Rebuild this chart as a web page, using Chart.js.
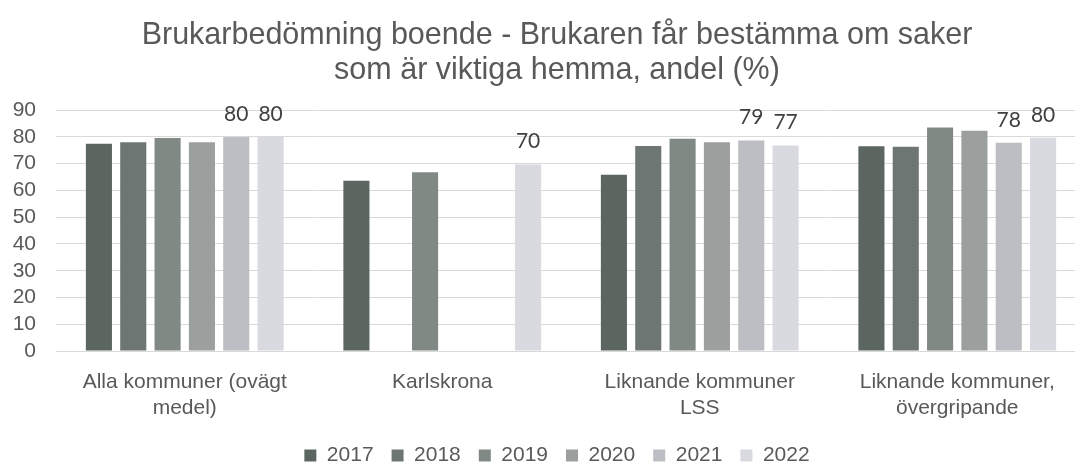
<!DOCTYPE html>
<html lang="sv">
<head>
<meta charset="utf-8">
<title>Brukarbedömning boende</title>
<script src="https://cdn.jsdelivr.net/npm/chart.js@4"></script>
<style>
  html, body { margin: 0; padding: 0; overflow: hidden; background: #fff; width: 1075px; height: 464px; }
  #chart { position: absolute; left: 0; top: 0; }
</style>
</head>
<body>
<canvas id="chart" width="1114" height="476"></canvas>
<script>
const categories = [
    ["Alla kommuner (ovägt", "medel)"],
    "Karlskrona",
    ["Liknande kommuner", "LSS"],
    ["Liknande kommuner,", "övergripande"]
];
const years = ["2017", "2018", "2019", "2020", "2021", "2022"];

const v2017 = [77.4, 63.6, 65.9, 76.5];
const v2018 = [78.0, null, 76.6, 76.3];
const v2019 = [79.6, 66.8, 79.3, 83.5];
const v2020 = [78.0, null, 78.0, 82.3];
const v2021 = [80.0, null, 78.7, 77.8];
const v2022 = [80.0, 69.7, 76.8, 79.7];

const yTicks = [0, 10, 20, 30, 40, 50, 60, 70, 80, 90];
const labelledYears = ["2021", "2022"];

const colors = ["#5b6661", "#6d7672", "#818985", "#9ba09e", "#bdbec3", "#d9d9e0"];
const values = [v2017, v2018, v2019, v2020, v2021, v2022];

const textGray = "#595959";
const sans = "'Liberation Sans', Arial, sans-serif";

// etiketter ovanför staplarna (bara 2021 och 2022)
const barLabels = {
    id: "barLabels",
    afterDatasetsDraw(chart) {
        const ctx = chart.ctx;
        ctx.save();
        ctx.font = "21px Lato, sans-serif";
        ctx.fillStyle = "#404040";
        ctx.textAlign = "center";
        ctx.textBaseline = "alphabetic";
        chart.data.datasets.forEach((ds, i) => {
            if (!labelledYears.includes(ds.label)) return;
            const meta = chart.getDatasetMeta(i);
            meta.data.forEach((bar, j) => {
                const v = ds.data[j];
                if (v === null) return;
                ctx.fillText(Math.round(v), bar.x, bar.y - 16);
            });
        });
        ctx.restore();
    }
};

const datasets = years.map((year, i) => ({
    label: year,
    data: values[i],
    backgroundColor: colors[i],
    borderWidth: 0,
    categoryPercentage: 0.8,
    barPercentage: 0.76
}));

const context = document.getElementById("chart").getContext("2d");
const chart = new Chart(context, {
    type: "bar",
    data: {
        labels: categories,
        datasets: datasets
    },
    options: {
        responsive: false,
        animation: false,
        devicePixelRatio: 1,
        layout: {
            padding: 0
        },
        plugins: {
            title: {
                display: true,
                text: ["Brukarbedömning boende - Brukaren får bestämma om saker", "som är viktiga hemma, andel (%)"],
                color: textGray,
                font: { family: sans, size: 30.5, weight: "normal", lineHeight: 1.15 },
                padding: { top: 18, bottom: 22 }
            },
            legend: {
                position: "bottom",
                labels: {
                    color: textGray,
                    font: { family: sans, size: 21 },
                    boxWidth: 12,
                    boxHeight: 12,
                    padding: 18
                }
            },
            tooltip: { enabled: false }
        },
        scales: {
            x: {
                grid: { display: false, drawTicks: false },
                border: { display: true, color: "#d9d9d9" },
                ticks: {
                    color: textGray,
                    font: { family: sans, size: 21, lineHeight: 1.2 },
                    padding: 19,
                    maxRotation: 0,
                    autoSkip: false
                },
                afterFit: (scale) => { scale.height = 76; }
            },
            y: {
                min: 0,
                max: 90,
                afterBuildTicks: (scale) => { scale.ticks = yTicks.map((v) => ({ value: v })); },
                grid: { color: "#d9d9d9", drawTicks: false },
                border: { display: false },
                ticks: {
                    color: textGray,
                    font: { family: sans, size: 21 },
                    padding: 20,
                    autoSkip: false
                },
                afterFit: (scale) => { scale.width = 56; }
            },
            // tom axel till höger, bara för marginalen
            yRight: {
                position: "right",
                grid: { display: false, drawTicks: false },
                border: { display: false },
                ticks: { display: false },
                afterFit: (scale) => { scale.width = 28; }
            }
        }
    },
    plugins: [barLabels]
});
</script>
</body>
</html>
